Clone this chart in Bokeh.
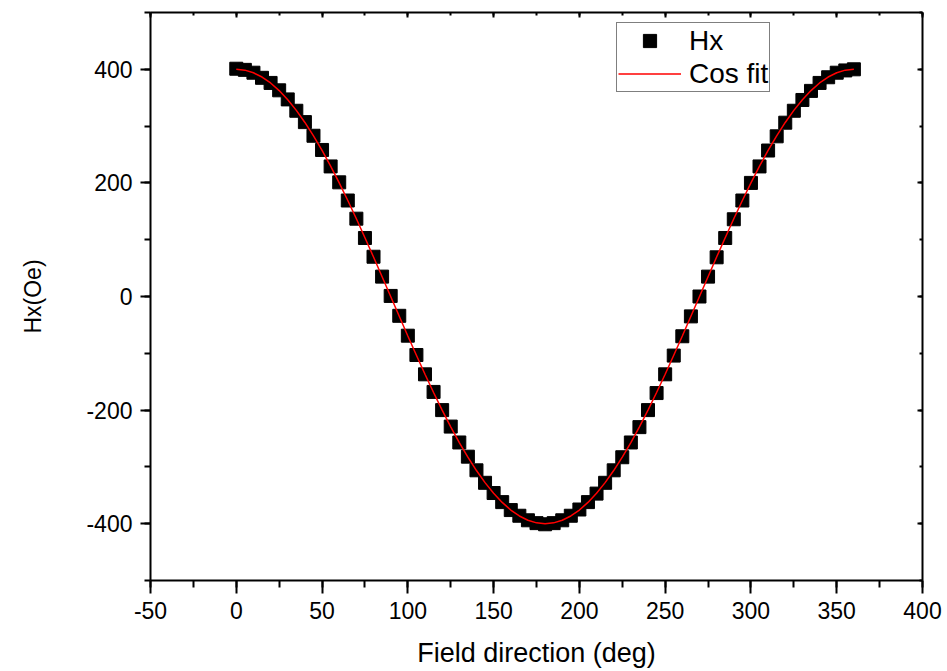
from bokeh.plotting import figure
from bokeh.models import (LinearAxis, Range1d, Legend, LegendItem, SingleIntervalTicker,
                          CustomJSTickFormatter, ColumnDataSource)
from bokeh.embed import file_html
from bokeh.resources import INLINE

# Field direction (deg)
angle = [0, 5, 10, 15, 20, 25, 30, 35, 40, 45, 50, 55, 60, 65, 70, 75, 80, 85,
         90, 95, 100, 105, 110, 115, 120, 125, 130, 135, 140, 145, 150, 155, 160, 165, 170, 175,
         180, 185, 190, 195, 200, 205, 210, 215, 220, 225, 230, 235, 240, 245, 250, 255, 260, 265,
         270, 275, 280, 285, 290, 295, 300, 305, 310, 315, 320, 325, 330, 335, 340, 345, 350, 355, 360]

# Measured Hx (Oe)
hx = [401, 399, 394, 385, 376, 363, 347, 327, 307, 283, 258, 229, 201, 169, 137, 103, 70, 35,
      1, -34, -69, -103, -137, -168, -200, -229, -257, -282, -306, -328, -346, -362, -376, -386, -394, -399,
      -401, -399, -394, -386, -375, -362, -347, -328, -306, -283, -257, -230, -200, -170, -137, -104, -70, -35,
      0, 35, 69, 103, 136, 169, 200, 229, 257, 282, 306, 327, 346, 362, 376, 386, 394, 398, 400]

# Cos fit curve (Oe)
fit = [400.0, 398.5, 393.9, 386.4, 375.9, 362.5, 346.4, 327.7, 306.4, 282.8, 257.1, 229.4, 200.0, 169.0,
       136.8, 103.5, 69.5, 34.9, 0.0, -34.9, -69.5, -103.5, -136.8, -169.0, -200.0, -229.4, -257.1,
       -282.8, -306.4, -327.7, -346.4, -362.5, -375.9, -386.4, -393.9, -398.5, -400.0, -398.5, -393.9,
       -386.4, -375.9, -362.5, -346.4, -327.7, -306.4, -282.8, -257.1, -229.4, -200.0, -169.0, -136.8,
       -103.5, -69.5, -34.9, 0.0, 34.9, 69.5, 103.5, 136.8, 169.0, 200.0, 229.4, 257.1, 282.8, 306.4,
       327.7, 346.4, 362.5, 375.9, 386.4, 393.9, 398.5, 400.0]

FONT = "Liberation Sans"

p = figure(width=947, height=671, output_backend="svg", toolbar_location=None,
           x_range=Range1d(-50, 400), y_range=Range1d(-500, 500),
           x_axis_location=None, y_axis_location=None,
           min_border_left=150, min_border_right=25, min_border_top=12, min_border_bottom=91)
p.grid.visible = False
p.outline_line_color = None
p.background_fill_color = "white"
p.border_fill_color = "white"

xt = SingleIntervalTicker(interval=50, num_minor_ticks=2)
yt = SingleIntervalTicker(interval=200, num_minor_ticks=2)
num_fmt = CustomJSTickFormatter(code="return tick.toFixed(0)")

def style(ax, labeled):
    ax.axis_line_width = 2
    ax.axis_line_color = "black"
    ax.major_tick_line_width = 2
    ax.minor_tick_line_width = 2
    ax.major_tick_line_color = "black"
    ax.minor_tick_line_color = "black"
    if labeled:
        ax.formatter = num_fmt
        ax.major_tick_in = 0
        ax.major_tick_out = 13
        ax.minor_tick_in = 0
        ax.minor_tick_out = 7
        ax.major_label_text_font = FONT
        ax.major_label_text_font_size = "23px"
        ax.major_label_text_color = "black"
        ax.axis_label_text_font = FONT
        ax.axis_label_text_font_style = "normal"
        ax.axis_label_text_color = "black"
    else:
        ax.major_tick_in = 5
        ax.major_tick_out = 0
        ax.minor_tick_in = 3
        ax.minor_tick_out = 0
        ax.major_label_standoff = 0
        ax.formatter = CustomJSTickFormatter(code="return ''")

xb = LinearAxis(ticker=xt, axis_label="Field direction (deg)")
style(xb, True)
xb.major_label_standoff = 8
xb.axis_label_standoff = 16
xb.axis_label_text_font_size = "27px"
p.add_layout(xb, "below")

yl = LinearAxis(ticker=yt, axis_label="Hx(Oe)")
style(yl, True)
yl.major_tick_out = 10
yl.minor_tick_out = 6
yl.major_label_standoff = 8
yl.axis_label_standoff = 37
yl.axis_label_text_font_size = "23px"
p.add_layout(yl, "left")

xa = LinearAxis(ticker=SingleIntervalTicker(interval=50, num_minor_ticks=2))
style(xa, False)
p.add_layout(xa, "above")

yr = LinearAxis(ticker=SingleIntervalTicker(interval=200, num_minor_ticks=2))
style(yr, False)
p.add_layout(yr, "right")

src = ColumnDataSource(dict(angle=angle, hx=hx, fit=fit))
r_pts = p.scatter("angle", "hx", source=src, marker="square", size=13,
                  fill_color="black", line_color="black")
r_fit = p.line("angle", "fit", source=src, line_color="#ff0000", line_width=1.5)

legend = Legend(items=[LegendItem(label="Hx", renderers=[r_pts]),
                       LegendItem(label="Cos fit", renderers=[r_fit])],
                location=(466, 488), orientation="vertical")
legend.label_text_font = FONT
legend.label_text_font_size = "28px"
legend.label_text_color = "black"
legend.glyph_width = 63
legend.glyph_height = 33
legend.label_height = 33
legend.label_standoff = 8
legend.spacing = 0
legend.padding = 1
legend.margin = 0
legend.border_line_color = "black"
legend.border_line_width = 1
legend.background_fill_color = "white"
legend.background_fill_alpha = 1
p.add_layout(legend, "center")

open("out.html", "w").write(file_html(p, INLINE))
